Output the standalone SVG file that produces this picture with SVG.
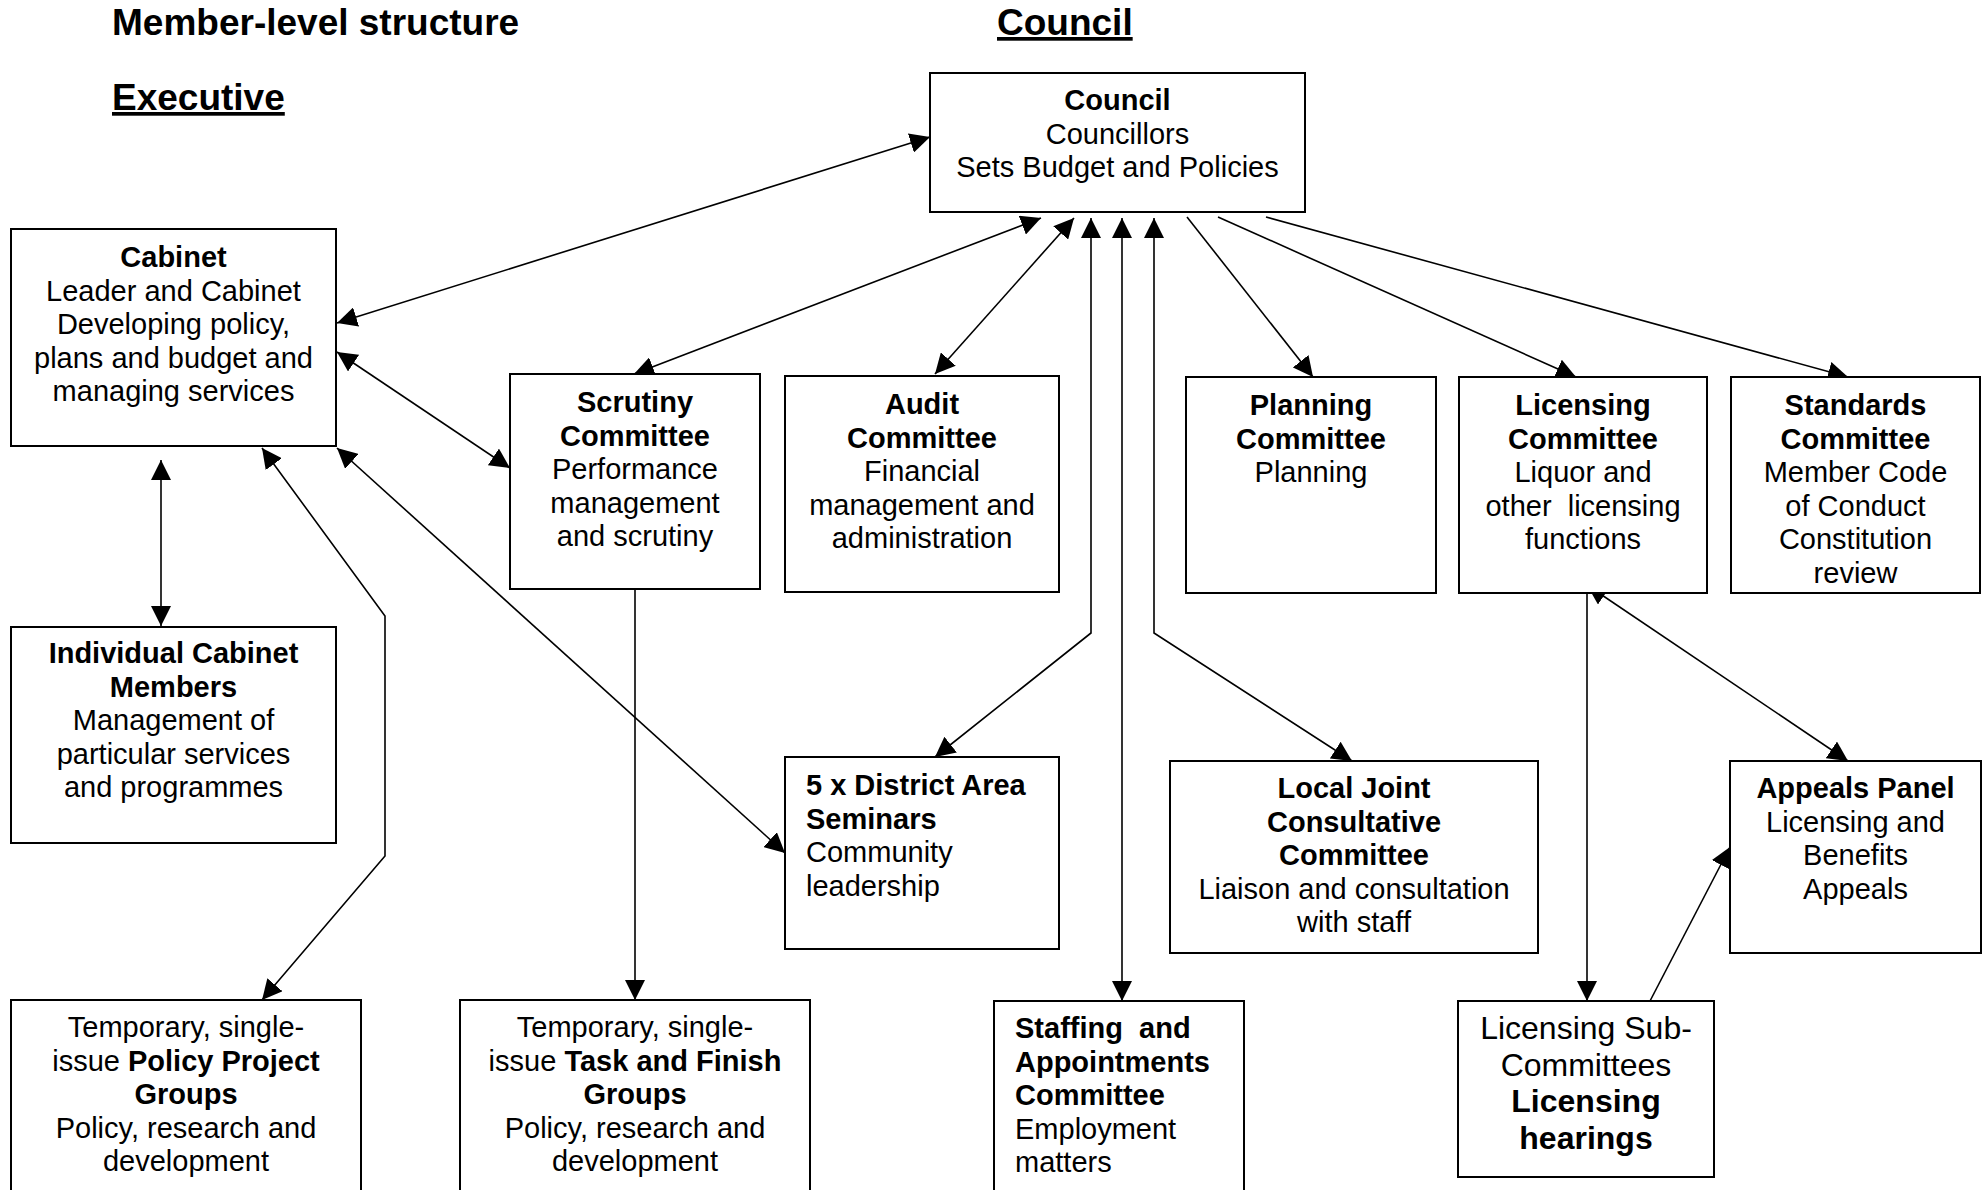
<svg xmlns="http://www.w3.org/2000/svg" width="1987" height="1190" viewBox="0 0 1987 1190">
<defs>
<style>
.box{fill:#fff;stroke:#000;stroke-width:2}
.ln{fill:none;stroke:#000;stroke-width:1.6}
text{font-family:"Liberation Sans",Arial,sans-serif;font-size:29px;fill:#000;white-space:pre}
.c{text-anchor:middle}
.b{font-weight:bold}
.t{font-size:37px;font-weight:bold}
.u{text-decoration:underline}
.big{font-size:32px}
</style>
<marker id="ah" markerUnits="userSpaceOnUse" markerWidth="20" markerHeight="20" refX="20" refY="10" orient="auto-start-reverse" viewBox="0 0 20 20">
<path d="M0,0 L20,10 L0,20 z" fill="#000"/>
</marker>
</defs>
<rect width="1987" height="1190" fill="#fff"/>

<g id="titles">
<text class="t" x="112" y="35">Member-level structure</text>
<text class="t u" x="112" y="110">Executive</text>
<text class="t u" x="997" y="35">Council</text>
</g>

<g id="connectors">
<line class="ln" x1="930" y1="137" x2="337" y2="323" marker-start="url(#ah)" marker-end="url(#ah)"/>
<line class="ln" x1="1041" y1="218" x2="634" y2="374" marker-start="url(#ah)" marker-end="url(#ah)"/>
<line class="ln" x1="1074" y1="218" x2="935" y2="374" marker-start="url(#ah)" marker-end="url(#ah)"/>
<polyline class="ln" points="1091,218 1091,633 935,757" marker-start="url(#ah)" marker-end="url(#ah)"/>
<line class="ln" x1="1122" y1="218" x2="1122" y2="1001" marker-start="url(#ah)" marker-end="url(#ah)"/>
<polyline class="ln" points="1154,218 1154,633 1352,761" marker-start="url(#ah)" marker-end="url(#ah)"/>
<line class="ln" x1="1187" y1="217" x2="1313" y2="377" marker-end="url(#ah)"/>
<line class="ln" x1="1218" y1="217" x2="1576" y2="377" marker-end="url(#ah)"/>
<line class="ln" x1="1266" y1="217" x2="1848" y2="377" marker-end="url(#ah)"/>
<line class="ln" x1="337" y1="352" x2="510" y2="468" marker-start="url(#ah)" marker-end="url(#ah)"/>
<line class="ln" x1="161" y1="460" x2="161" y2="626" marker-start="url(#ah)" marker-end="url(#ah)"/>
<polyline class="ln" points="262,448 385,616 385,856 262,1000" marker-start="url(#ah)" marker-end="url(#ah)"/>
<line class="ln" x1="337" y1="448" x2="785" y2="853" marker-start="url(#ah)" marker-end="url(#ah)"/>
<line class="ln" x1="635" y1="589" x2="635" y2="1000" marker-end="url(#ah)"/>
<line class="ln" x1="1587" y1="585" x2="1587" y2="1001" marker-end="url(#ah)"/>
<line class="ln" x1="1587" y1="585" x2="1848" y2="761" marker-start="url(#ah)" marker-end="url(#ah)"/>
<line class="ln" x1="1650" y1="1001" x2="1730" y2="847" marker-end="url(#ah)"/>
</g>

<g id="council">
<rect class="box" x="930" y="73" width="375" height="139"/>
<text class="c"><tspan class="b" x="1117.5" y="110">Council</tspan><tspan x="1117.5" y="143.5">Councillors</tspan><tspan x="1117.5" y="177">Sets Budget and Policies</tspan></text>
</g>

<g id="cabinet">
<rect class="box" x="11" y="229" width="325" height="217"/>
<text class="c"><tspan class="b" x="173.5" y="267">Cabinet</tspan><tspan x="173.5" y="300.5">Leader and Cabinet</tspan><tspan x="173.5" y="334">Developing policy,</tspan><tspan x="173.5" y="367.5">plans and budget and</tspan><tspan x="173.5" y="401">managing services</tspan></text>
</g>

<g id="scrutiny">
<rect class="box" x="510" y="374" width="250" height="215"/>
<text class="c"><tspan class="b" x="635" y="412">Scrutiny</tspan><tspan class="b" x="635" y="445.5">Committee</tspan><tspan x="635" y="479">Performance</tspan><tspan x="635" y="512.5">management</tspan><tspan x="635" y="546">and scrutiny</tspan></text>
</g>

<g id="audit">
<rect class="box" x="785" y="376" width="274" height="216"/>
<text class="c"><tspan class="b" x="922" y="414">Audit</tspan><tspan class="b" x="922" y="447.5">Committee</tspan><tspan x="922" y="481">Financial</tspan><tspan x="922" y="514.5">management and</tspan><tspan x="922" y="548">administration</tspan></text>
</g>

<g id="planning">
<rect class="box" x="1186" y="377" width="250" height="216"/>
<text class="c"><tspan class="b" x="1311" y="415">Planning</tspan><tspan class="b" x="1311" y="448.5">Committee</tspan><tspan x="1311" y="482">Planning</tspan></text>
</g>

<g id="licensing">
<rect class="box" x="1459" y="377" width="248" height="216"/>
<text class="c"><tspan class="b" x="1583" y="415">Licensing</tspan><tspan class="b" x="1583" y="448.5">Committee</tspan><tspan x="1583" y="482">Liquor and</tspan><tspan x="1583" y="515.5">other  licensing</tspan><tspan x="1583" y="549">functions</tspan></text>
</g>

<g id="standards">
<rect class="box" x="1731" y="377" width="249" height="216"/>
<text class="c"><tspan class="b" x="1855.5" y="415">Standards</tspan><tspan class="b" x="1855.5" y="448.5">Committee</tspan><tspan x="1855.5" y="482">Member Code</tspan><tspan x="1855.5" y="515.5">of Conduct</tspan><tspan x="1855.5" y="549">Constitution</tspan><tspan x="1855.5" y="582.5">review</tspan></text>
</g>

<g id="individual">
<rect class="box" x="11" y="627" width="325" height="216"/>
<text class="c"><tspan class="b" x="173.5" y="663">Individual Cabinet</tspan><tspan class="b" x="173.5" y="696.5">Members</tspan><tspan x="173.5" y="730">Management of</tspan><tspan x="173.5" y="763.5">particular services</tspan><tspan x="173.5" y="797">and programmes</tspan></text>
</g>

<g id="district">
<rect class="box" x="785" y="757" width="274" height="192"/>
<text><tspan class="b" x="806" y="795">5 x District Area</tspan><tspan class="b" x="806" y="828.5">Seminars</tspan><tspan x="806" y="862">Community</tspan><tspan x="806" y="895.5">leadership</tspan></text>
</g>

<g id="ljcc">
<rect class="box" x="1170" y="761" width="368" height="192"/>
<text class="c"><tspan class="b" x="1354" y="798">Local Joint</tspan><tspan class="b" x="1354" y="831.5">Consultative</tspan><tspan class="b" x="1354" y="865">Committee</tspan><tspan x="1354" y="898.5">Liaison and consultation</tspan><tspan x="1354" y="932">with staff</tspan></text>
</g>

<g id="appeals">
<rect class="box" x="1730" y="761" width="251" height="192"/>
<text class="c"><tspan class="b" x="1855.5" y="798">Appeals Panel</tspan><tspan x="1855.5" y="831.5">Licensing and</tspan><tspan x="1855.5" y="865">Benefits</tspan><tspan x="1855.5" y="898.5">Appeals</tspan></text>
</g>

<g id="staffing">
<rect class="box" x="994" y="1001" width="250" height="220"/>
<text><tspan class="b" x="1015" y="1038">Staffing  and</tspan><tspan class="b" x="1015" y="1071.5">Appointments</tspan><tspan class="b" x="1015" y="1105">Committee</tspan><tspan x="1015" y="1138.5">Employment</tspan><tspan x="1015" y="1172">matters</tspan></text>
</g>

<g id="licensing-sub">
<rect class="box" x="1458" y="1001" width="256" height="176"/>
<text class="c big"><tspan x="1586" y="1039">Licensing Sub-</tspan><tspan x="1586" y="1075.5">Committees</tspan><tspan class="b" x="1586" y="1112">Licensing</tspan><tspan class="b" x="1586" y="1148.5">hearings</tspan></text>
</g>

<g id="policy-project">
<rect class="box" x="11" y="1000" width="350" height="220"/>
<text class="c"><tspan x="186" y="1037">Temporary, single-</tspan><tspan x="186" y="1070.5">issue <tspan class="b">Policy Project</tspan></tspan><tspan class="b" x="186" y="1104">Groups</tspan><tspan x="186" y="1137.5">Policy, research and</tspan><tspan x="186" y="1171">development</tspan></text>
</g>

<g id="task-finish">
<rect class="box" x="460" y="1000" width="350" height="220"/>
<text class="c"><tspan x="635" y="1037">Temporary, single-</tspan><tspan x="635" y="1070.5">issue <tspan class="b">Task and Finish</tspan></tspan><tspan class="b" x="635" y="1104">Groups</tspan><tspan x="635" y="1137.5">Policy, research and</tspan><tspan x="635" y="1171">development</tspan></text>
</g>
</svg>
